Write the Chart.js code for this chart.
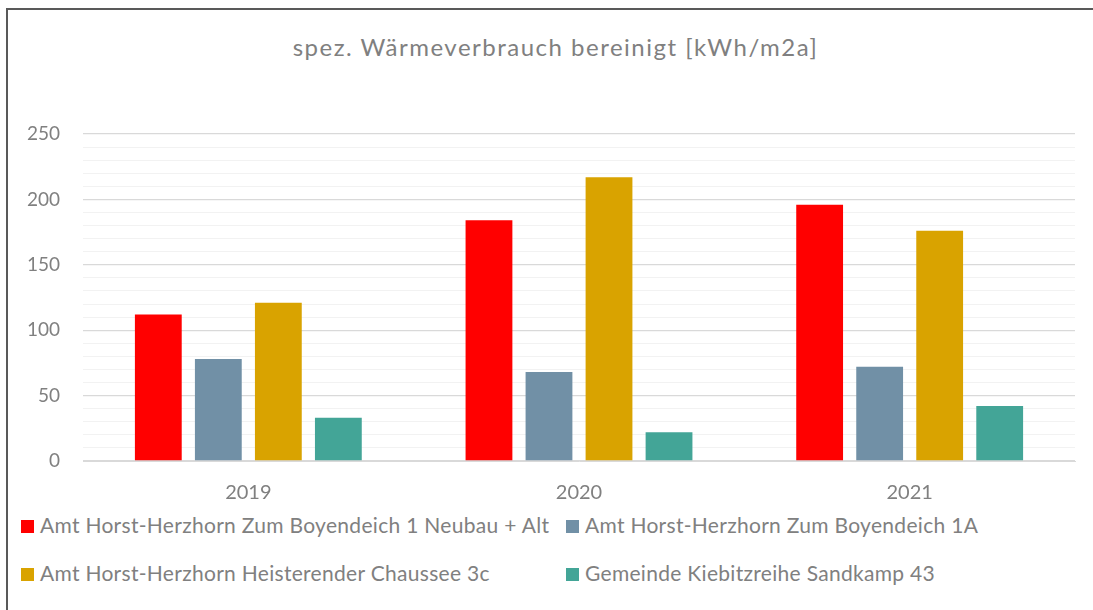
<!DOCTYPE html>
<html>
<head>
<meta charset="utf-8">
<script src="https://cdn.jsdelivr.net/npm/chart.js@4/dist/chart.umd.min.js"></script>
<style>
  body { margin: 0; background: #fff; font-family: Lato, "Open Sans", sans-serif; }
  #frame { position: absolute; left: 6px; top: 8px; width: 1100px; height: 620px;
           border-top: 2px solid #595959; border-left: 2px solid #595959; }
  #title { position: absolute; left: 0; width: 1111px; top: 32px; text-align: center;
           font-size: 24px; letter-spacing: 1.5px; color: #808080; }
  #wrap { position: absolute; left: 0; top: 0; width: 1093px; height: 501px; }
  .leg { position: absolute; font-size: 21px; letter-spacing: 0.3px; color: #808080; white-space: nowrap; line-height: 22px; }
  .leg span { display: inline-block; width: 13px; height: 13px; margin-right: 6px; vertical-align: 0px; }
</style>
</head>
<body>
<div id="frame"></div>
<div id="title">spez. Wärmeverbrauch bereinigt [kWh/m2a]</div>
<div id="wrap"><canvas id="canvas"></canvas></div>
<div id="legend"></div>
<script>
var jahre = ['2019', '2020', '2021'];
var namen = [
  'Amt Horst-Herzhorn Zum Boyendeich 1 Neubau + Alt',
  'Amt Horst-Herzhorn Zum Boyendeich 1A',
  'Amt Horst-Herzhorn Heisterender Chaussee 3c',
  'Gemeinde Kiebitzreihe Sandkamp 43'
];
var neubauAlt = [112, 184, 196];
var boyendeich1A = [78, 68, 72];
var heisterender = [121, 217, 176];
var sandkamp = [33, 22, 42];
var farben = ['#ff0000', '#7190a6', '#d9a300', '#43a597'];

var werte = [neubauAlt, boyendeich1A, heisterender, sandkamp];
var datasets = [];
for (var i = 0; i < werte.length; i++) {
  datasets.push({
    label: namen[i],
    data: werte[i],
    backgroundColor: farben[i],
    categoryPercentage: 0.726,
    barPercentage: 0.78
  });
}

// legend as two columns like the original
var legPos = [[21, 514], [566, 514], [21, 562], [566, 562]];
var legend = document.getElementById('legend');
for (var j = 0; j < namen.length; j++) {
  var d = document.createElement('div');
  d.className = 'leg';
  d.style.left = legPos[j][0] + 'px';
  d.style.top = legPos[j][1] + 'px';
  d.innerHTML = '<span style="background:' + farben[j] + '"></span>' + namen[j];
  legend.appendChild(d);
}

var ctx = document.getElementById('canvas').getContext('2d');
Chart.defaults.font.family = 'Lato, "Open Sans", sans-serif';
Chart.defaults.color = '#808080';

new Chart(ctx, {
  type: 'bar',
  data: { labels: jahre, datasets: datasets },
  options: {
    responsive: true,
    maintainAspectRatio: false,
    animation: false,
    layout: { padding: { top: 134, right: 18, left: 0, bottom: 0 } },
    plugins: {
      legend: { display: false },
      title: { display: false },
      tooltip: { enabled: false }
    },
    scales: {
      x: {
        grid: { display: false, drawTicks: false },
        border: { display: true, color: '#d9d9d9', width: 1 },
        ticks: { font: { size: 20 }, padding: 20 },
        afterFit: function(s) { s.height = 40; }
      },
      y: {
        min: 0,
        max: 250,
        border: { display: false },
        grid: {
          drawTicks: false,
          color: function(c) { return c.tick.value % 50 === 0 ? '#d9d9d9' : '#f2f2f2'; },
          lineWidth: function(c) { return c.tick.value % 50 === 0 ? 1.3 : 1; }
        },
        ticks: {
          stepSize: 10,
          autoSkip: false,
          font: { size: 19 },
          padding: 23,
          callback: function(v) { return v % 50 === 0 ? v : ''; }
        },
        afterFit: function(s) { s.width = 83; }
      }
    }
  }
});
</script>
</body>
</html>
